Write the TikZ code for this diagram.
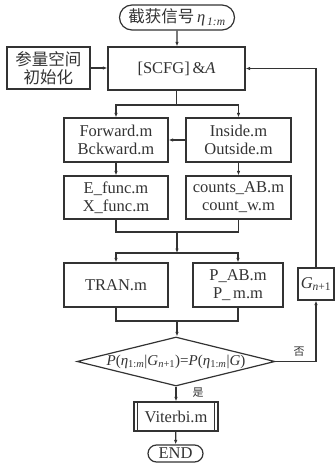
\documentclass[tikz,border=0pt]{standalone}
\usepackage{fontspec}
\setmainfont{Liberation Serif}
\newfontfamily\cjk{Noto Sans CJK SC}
\usetikzlibrary{shapes.misc,shapes.geometric,arrows.meta}
\begin{document}
\begin{tikzpicture}[x=1pt,y=-1pt,
  line width=1.2pt, draw=black!80,
  every node/.style={inner sep=0pt, font=\fontsize{16.5}{18}\selectfont, text=black!80},
  box/.style={draw, rectangle, align=center},
  term/.style={draw, rounded rectangle, align=center},
  arr/.style={-{Latex[length=4.5pt,width=3.5pt]}}]
\useasboundingbox (0,0) rectangle (335,469);
% nodes
\node[term, minimum width=115, minimum height=25] (start) at (177,17.5) {{\cjk 截获信号}\,\textit{η}\textsubscript{\,\textit{1:m}}};
\node[box, minimum width=137, minimum height=43] (scfg) at (176.5,68.5) {[SCFG]\,\&\textit{A}};
\node[box, minimum width=83, minimum height=42] (init) at (48.5,68) {\cjk 参量空间\\\cjk 初始化};
\node[box, minimum width=104, minimum height=44] (fwd) at (116,140) {Forward.m\\Bckward.m};
\node[box, minimum width=105, minimum height=44] (ins) at (238.5,140) {Inside.m\\Outside.m};
\node[box, minimum width=104, minimum height=43] (efunc) at (116,197.5) {E\_func.m\\X\_func.m};
\node[box, minimum width=105, minimum height=43] (counts) at (238.5,197.5) {counts\_AB.m\\count\_w.m};
\node[box, minimum width=104, minimum height=44] (tran) at (116,285) {TRAN.m};
\node[box, minimum width=90, minimum height=44] (pab) at (238,285) {P\_AB.m\\P\_\,m.m};
\node[box, minimum width=36, minimum height=32] (g) at (316,284) {\textit{G}\textsubscript{\textit{n}+1}};
\node[draw, diamond, minimum width=198, minimum height=49] (dia) at (176,361.5)
  {\makebox[0pt]{\fontsize{15}{18}\selectfont\textit{P}(\textit{η}\textsubscript{1:\textit{m}}|\textit{G}\textsubscript{\textit{n}+1})=\textit{P}(\textit{η}\textsubscript{1:\textit{m}}|\textit{G})}};
\node[box, minimum width=84, minimum height=29] (vit) at (176,416.5) {Viterbi.m};
\draw ([xshift=4]vit.north west) -- ([xshift=4]vit.south west);
\draw ([xshift=-4]vit.north east) -- ([xshift=-4]vit.south east);
\node[term, minimum width=55, minimum height=17] (end) at (175.5,453.5) {END};
% junction coordinates
\coordinate (j1) at (176.5,105);
\coordinate (j2) at (177,232);
\coordinate (j3) at (177,253);
\coordinate (j4) at (177,321);
% connectors
\draw[arr] (start) -- (scfg.north -| start);
\draw[arr] (init) -- (scfg.west |- init);
\draw (scfg.south) -- (j1);
\draw[arr] (j1) -| (fwd.north);
\draw[arr] (j1) -| (ins.north);
\draw[arr] (ins) -- (fwd);
\draw[arr] (fwd) -- (efunc);
\draw[arr] (ins) -- (counts);
\draw (efunc.south) |- (j2);
\draw (counts.south) |- (j2);
\draw[arr] (j2) -- (j3);
\draw[arr] (j3) -| (tran.north);
\draw[arr] (j3) -| (pab.north);
\draw (tran.south) |- (j4);
\draw (pab.south) |- (j4);
\draw[arr] (j4) -- (dia.north -| j4);
\draw[arr] (dia.east) -| (g.south);
\draw[arr] (g.north) |- (scfg.east);
\draw[arr] (dia.south) -- (vit.north -| dia.south);
\draw[arr] (vit) -- (end);
% labels
\node[font=\fontsize{11}{12}\selectfont\cjk] (no) at (299,352) {否};
\node[font=\fontsize{11}{12}\selectfont\cjk] (yes) at (198,393) {是};
\end{tikzpicture}
\end{document}
